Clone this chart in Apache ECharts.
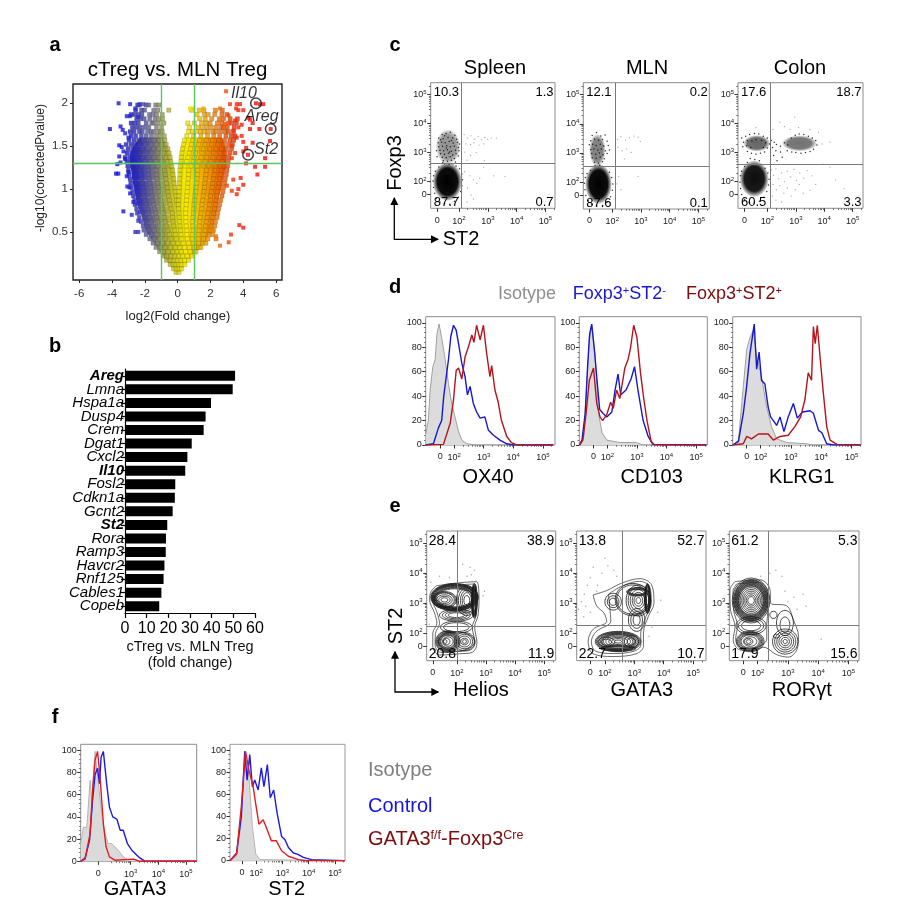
<!DOCTYPE html>
<html>
<head>
<meta charset="utf-8">
<title>cTreg panels</title>
<style>html,body{margin:0;padding:0;background:#fff}#main{width:917px;height:924px}</style>
<script src="https://cdn.jsdelivr.net/npm/echarts@6/dist/echarts.min.js"></script>
</head>
<body>
<div id="main"></div>
<script>
// ---- panel a: volcano, rows of [y, [x, x, ...]]
const volcanoRows = [
[0.03,[-0.1,0.08]],
[0.07,[-0.25,-0.08,0.1,0.24]],
[0.12,[-0.46,-0.28,-0.1,0.06,0.24,0.44]],
[0.17,[-0.68,-0.45,-0.22,-0.02,0.2,0.42,0.66]],
[0.22,[-0.88,-0.66,-0.4,-0.16,0.08,0.32,0.58,0.86]],
[0.27,[-1.1,-0.85,-0.58,-0.3,-0.04,0.22,0.48,0.76,1.04,1.12]],
[0.32,[-1.32,-1.06,-0.76,-0.44,-0.14,0.14,0.42,0.72,1.02,1.3,1.42]],
[0.37,[-1.5,-1.22,-0.92,-0.6,-0.28,0.02,0.34,0.66,0.98,1.28,1.55,1.72]],
[0.42,[-1.7,-1.42,-1.1,-0.76,-0.4,-0.08,0.26,0.6,0.92,1.26,1.58,1.84,2.34]],
[0.47,[-1.92,-1.6,-1.26,-0.9,-0.5,-0.14,0.2,0.56,0.9,1.26,1.6,1.92,2.14]],
[0.52,[-2.06,-1.76,-1.42,-1.02,-0.6,-0.18,0.18,0.56,0.94,1.3,1.66,1.98,2.17]],
[0.57,[-2.1,-1.86,-1.5,-1.12,-0.7,-0.24,0.14,0.52,0.92,1.32,1.7,2.04,2.26]],
[0.62,[-2.22,-1.94,-1.6,-1.2,-0.76,-0.28,0.12,0.5,0.92,1.34,1.74,2.1,2.3]],
[0.67,[-2.34,-2.04,-1.68,-1.28,-0.82,-0.3,0.1,0.5,0.94,1.38,1.8,2.14,2.4]],
[0.72,[-2.46,-2.12,-1.76,-1.34,-0.88,-0.32,0.08,0.48,0.96,1.42,1.84,2.2,2.44]],
[0.77,[-2.5,-2.2,-1.82,-1.4,-0.94,-0.4,0.06,0.5,0.98,1.46,1.9,2.26,2.5]],
[0.82,[-2.6,-2.26,-1.88,-1.46,-1,-0.46,-0.04,0.06,0.52,1,1.48,1.94,2.3,2.56]],
[0.87,[-2.62,-2.32,-1.94,-1.52,-1.06,-0.5,-0.06,0.06,0.54,1.04,1.52,1.98,2.34,2.62]],
[0.92,[-2.7,-2.38,-2,-1.56,-1.1,-0.56,-0.1,0.08,0.56,1.06,1.56,2,2.38,2.7]],
[0.97,[-2.74,-2.44,-2.04,-1.62,-1.14,-0.6,-0.14,0.08,0.58,1.1,1.6,2.06,2.42,2.76]],
[1.02,[-2.82,-2.48,-2.1,-1.66,-1.18,-0.64,-0.18,0.1,0.6,1.12,1.64,2.1,2.46,2.8]],
[1.07,[-2.86,-2.52,-2.14,-1.7,-1.22,-0.68,-0.22,0.1,0.62,1.16,1.66,2.14,2.5,2.86]],
[1.12,[-2.9,-2.56,-2.2,-1.74,-1.26,-0.72,-0.24,0.12,0.64,1.18,1.7,2.18,2.54,2.9]],
[1.17,[-2.96,-2.6,-2.22,-1.78,-1.28,-0.76,-0.28,0.14,0.66,1.2,1.72,2.22,2.6,2.96]],
[1.22,[-3,-2.64,-2.26,-1.8,-1.32,-0.8,-0.3,0.14,0.68,1.22,1.76,2.26,2.64,3]],
[1.27,[-3.04,-2.78,-2.46,-2.2,-1.84,-1.52,-1.2,-0.84,-0.46,-0.36,0.16,0.44,0.82,1.18,1.55,1.9,2.28,2.6,2.82,3.04]],
[1.32,[-3.1,-2.86,-2.6,-2.32,-1.96,-1.66,-1.3,-0.96,-0.6,-0.42,0.2,0.55,0.95,1.3,1.66,2.02,2.4,2.72,3.08]],
[1.37,[-3.2,-2.92,-2.7,-2.42,-2.1,-1.74,-1.42,-1.06,-0.7,-0.46,0.22,0.62,1,1.42,1.76,2.14,2.5,2.86,3.12]],
[1.42,[-3.08,-2.8,-2.54,-2.26,-1.88,-1.56,-1.2,-0.84,-0.52,0.26,0.7,1.08,1.48,1.84,2.2,2.58,2.9,3.2]],
[1.47,[-3.02,-2.74,-2.44,-2.12,-1.8,-1.46,-1.14,-0.76,-0.6,0.3,0.78,1.2,1.56,1.94,2.32,2.66,2.98,3.28]],
[1.52,[-3.14,-2.84,-2.6,-2.3,-1.96,-1.62,-1.28,-0.96,-0.7,0.36,0.84,1.28,1.66,2.06,2.44,2.8,3.1,3.34]],
[1.57,[-2.96,-2.66,-2.38,-2.08,-1.76,-1.42,-1.12,-0.78,0.42,0.92,1.34,1.74,2.12,2.5,2.86,3.18,3.42]],
[1.62,[-2.84,-2.56,-2.22,-1.92,-1.6,-1.3,-1.04,-0.82,0.56,0.98,1.42,1.82,2.2,2.56,2.94,3.26,3.5]],
[1.67,[-2.9,-2.66,-2.34,-2.16,-1.84,-1.62,-1.48,-1.22,-1.04,-0.94,0.66,0.9,1.14,1.4,1.62,1.86,2.16,2.34,2.62,2.9,3.1,3.4]],
[1.72,[-2.76,-2.52,-2.28,-2.02,-1.76,-1.3,-0.98,0.72,1.24,1.5,1.78,2.06,2.36,2.66,2.8,3.02,3.44]],
[1.77,[-2.84,-2.62,-2.4,-1.92,-1.58,-1.46,-1.18,-0.84,0.62,1.02,1.46,1.74,1.98,2.42,2.7,3.1,3.3,3.58]],
[1.82,[-2.5,-2.26,-2.04,-1.7,-1.38,-1.16,-0.92,1.34,1.68,2.08,2.54,2.8,3.2,3.64]],
[1.87,[-2.84,-2.62,-2.38,-2.18,-1.72,-1.5,-1.28,-0.94,1.18,1.62,1.86,2.26,2.7,3]],
[1.92,[-2.56,-2.2,-2.02,-1.46,-1.2,-0.54,0.84,1.32,1.6,2.3,2.72]],
[1.98,[-2.44,-2.34,-1.92,-1.76,-1.34,-1.14]]
];
// scattered genes outside the main cloud
const volcanoSparse = [[-3.6,2],[-4.13,1.7],[-3.48,1.73],[-3.35,1.69],[-2.9,1.99],[-2.58,1.94],[-2.3,1.99],[-2.09,1.99],[-3.1,1.85],[-2.9,1.85],[-2.4,1.84],[-3.56,1.51],[-3.41,1.49],[-3.56,1.38],[-3.3,1.44],[-3.2,1.35],[-3.68,1.29],[-3.48,1.31],[-3.62,1.18],[-3.76,1.18],[-3,1.2],[-3.1,1.15],[-3.07,1.03],[-2.94,1.02],[-3.31,0.74],[-2.8,0.7],[-2.3,0.73],[-2.4,0.63],[-2.58,0.5],[-2.4,0.5],[-2.9,0.95],[-2.7,0.85],[-2.46,0.83],[-3.2,1.65],[-3,1.6],
[2.95,2.14],[3.19,1.99],[3.6,1.99],[3.8,1.99],[4,1.92],[3.56,1.94],[3.7,1.92],[4.31,1.83],[4.41,1.81],[4.57,1.77],[5.22,1.99],[5.02,1.99],[4.98,1.7],[4.41,1.7],[3.9,1.62],[4,1.55],[4.57,1.54],[5.63,1.56],[4.17,1.48],[4,1.44],[5.33,1.36],[4.17,1.3],[4.72,1.26],[5.33,1.26],[4.86,1.17],[3.84,1.13],[3.39,1.11],[4,1.05],[3.7,1],[3.6,0.94],[3.3,0.98],[3,1.04],[3.76,0.58],[4,0.55],[3.25,0.47],[3.11,0.38],[2.58,0.34],[2.34,0.45],[2.17,0.52],[2.58,1.94],[1.57,1.94],[0.95,1.94],[0.75,1.94],[3.5,1.8],[3.7,1.72],[3.9,1.75],[3.4,1.68],[3.6,1.6],[3.3,1.5],[3.5,1.42],[3.3,1.36],[3.1,1.86],[2.9,1.76]];
// y value, outer-left, inner-left, inner-right, outer-right of the dense cloud
const cloudRows = [
[0.03,-0.1,0,0,0.1],[0.1,-0.38,0,0,0.4],[0.2,-0.8,0,0,0.8],[0.3,-1.2,0,0,1.3],[0.4,-1.55,0,0,1.7],[0.5,-1.9,0,0,2],[0.6,-2.05,0,0,2.12],[0.7,-2.2,0,0,2.3],[0.8,-2.42,0,0,2.42],[0.9,-2.55,-0.03,0.03,2.5],[1,-2.65,-0.08,0.02,2.65],[1.1,-2.76,-0.14,0.05,2.76],[1.2,-2.82,-0.2,0.08,2.86],[1.3,-2.9,-0.3,0.1,2.95],[1.4,-2.9,-0.45,0.15,2.95],[1.5,-2.7,-0.62,0.22,2.9],[1.6,-2.3,-0.9,0.5,2.7]
];
const volcanoMarked = [{name:'Il10',value:[4.77,2],offset:[-12,-10]},{name:'Areg',value:[5.67,1.7],offset:[-9,-12]},{name:'St2',value:[4.29,1.4],offset:[18,-5]}];
const foldXTicks = [-6,-4,-2,0,2,4,6];
const pvalTicks = [0.5,1,1.5,2];
const foldCut = [-1,1];
const pvalCut = 1.3;

// ---- panel b
const barGenes = ['Areg','Lmna','Hspa1a','Dusp4','Crem','Dgat1','Cxcl2','Il10','Fosl2','Cdkn1a','Gcnt2','St2','Rora','Ramp3','Havcr2','Rnf125','Cables1','Copeb'];
const boldGenes = ['Areg','Il10','St2'];
const barValues = [50.8,49.7,39.7,37.2,36.3,30.8,28.8,27.8,23.2,23,22,19.5,18.9,18.8,18.2,17.8,16.8,15.8];

// ---- flow axes: position k means 10^k, the zero label sits in the linear part
const decadeTicks = [2,3,4,5];
const minorOffsets = [0.3,0.48,0.6,0.7,0.78,0.85,0.9,0.95];
const percentTicks = [0,20,40,60,80,100];
const percentMinor = [4,8,12,16,24,28,32,36,44,48,52,56,64,68,72,76,84,88,92,96];

// ---- panel c: quadrant percentages UL, UR, LL, LR
const spleenQuad = ['10.3','1.3','87.7','0.7'];
const mlnQuad = ['12.1','0.2','87.6','0.1'];
const colonQuad = ['17.6','18.7','60.5','3.3'];
// populations as x, y, x spread, y spread, density
const spleenBlobs = [[1.6,2,0.5,0.66,1],[1.62,3.2,0.42,0.6,0.42]];
const mlnBlobs = [[1.52,1.94,0.46,0.68,1],[1.48,3.1,0.28,0.55,0.5]];
const colonBlobs = [[1.54,2.1,0.5,0.62,0.95],[1.63,3.32,0.46,0.28,0.6],[3.13,3.32,0.6,0.27,0.55]];
const spleenDense = [[1.42,3.62],[1.55,3.66],[1.7,3.7],[1.86,3.6],[1.3,3.5],[1.45,3.48],[1.62,3.52],[1.78,3.5],[1.92,3.46],[1.28,3.34],[1.4,3.36],[1.52,3.34],[1.66,3.38],[1.8,3.33],[1.95,3.36],[2.02,3.3],[1.3,3.2],[1.43,3.22],[1.58,3.24],[1.7,3.2],[1.84,3.22],[1.98,3.18],[1.34,3.08],[1.47,3.06],[1.6,3.1],[1.74,3.05],[1.88,3.08],[1.36,2.96],[1.5,2.94],[1.64,2.98],[1.78,2.92],[1.9,2.96],[1.42,2.84],[1.56,2.82],[1.7,2.86],[1.84,2.8],[1.46,2.72],[1.6,2.7],[1.74,2.74],[1.88,2.68],[1.5,2.62],[1.66,2.6],[1.8,2.62],[1.12,2.2],[1.1,2.02],[1.12,1.8],[1.16,1.6],[1.22,1.42],[1.34,1.3],[1.5,1.24],[1.68,1.22],[1.84,1.32],[1.98,1.46],[2.06,1.66],[2.1,1.86],[2.12,2.06],[2.1,2.26],[2.02,2.44],[1.9,2.54],[1.3,2.5],[1.18,2.36],[1.36,3.44],[1.5,3.58],[1.74,3.42],[1.22,3.06],[1.24,2.86],[1.98,2.88],[2,3.06],[1.56,3.16],[1.68,3.02],[1.44,2.66]];
const spleenSparse = [[2.18,3.62],[2.3,3.5],[2.42,3.58],[2.55,3.46],[2.66,3.56],[2.78,3.44],[2.9,3.52],[3,3.46],[3.12,3.5],[3.3,3.5],[2.24,3.3],[2.4,3.28],[2.52,3.34],[2.7,3.26],[2.86,3.3],[2.2,3.02],[2.4,2.9],[2.6,3],[2.28,2.74],[2.88,2.72],[2.2,2.34],[2.38,2.2],[2.5,2.06],[2.62,1.94],[2.72,2.12],[2.3,1.78],[2.42,1.54],[3.2,2.2],[3.6,2.18],[2.86,2.5],[2.5,1.4],[2.28,1.3]];
const mlnDense = [[1.3,3.6],[1.45,3.7],[1.6,3.58],[1.75,3.62],[1.25,3.42],[1.38,3.48],[1.52,3.44],[1.66,3.46],[1.82,3.4],[1.2,3.28],[1.32,3.3],[1.44,3.26],[1.58,3.3],[1.7,3.24],[1.86,3.26],[1.25,3.12],[1.36,3.14],[1.5,3.1],[1.62,3.14],[1.76,3.08],[1.9,3.1],[1.28,2.98],[1.42,2.96],[1.55,3],[1.68,2.94],[1.82,2.98],[1.3,2.84],[1.44,2.82],[1.58,2.86],[1.72,2.8],[1.38,2.68],[1.52,2.66],[1.66,2.7],[1.4,2.56],[1.56,2.58],[1.06,2.16],[1.03,1.96],[1.05,1.74],[1.08,1.54],[1.16,1.36],[1.28,1.24],[1.46,1.18],[1.66,1.2],[1.82,1.32],[1.94,1.5],[2,1.72],[2.02,1.94],[1.98,2.16],[1.9,2.34],[1.24,2.4],[1.12,2.3]];
const mlnSparse = [[2.18,3.46],[2.3,3.56],[2.46,3.44],[2.6,3.52],[2.76,3.58],[2.9,3.54],[2.98,3.4],[2.2,3.2],[2.34,3.08],[2.5,3.14],[2.66,3.02],[2.42,2.8],[2.9,2.2],[2.22,2.2],[2.16,1.94],[2.3,1.74],[2.22,2.54]];
const colonDense = [[1.1,3.5],[1.24,3.56],[1.38,3.62],[1.55,3.66],[1.7,3.64],[1.86,3.56],[2,3.5],[2.14,3.42],[1.16,3.36],[1.3,3.42],[1.46,3.4],[1.6,3.44],[1.8,3.42],[1.94,3.34],[2.08,3.3],[2.24,3.36],[1.14,3.2],[1.28,3.24],[1.42,3.18],[1.86,3.18],[2,3.16],[2.18,3.18],[2.32,3.28],[2.46,3.22],[2.6,3.34],[2.72,3.26],[2.84,3.5],[2.98,3.6],[3.12,3.64],[3.28,3.62],[3.44,3.56],[3.58,3.5],[3.7,3.42],[2.7,3.06],[2.86,3.02],[3,3],[3.18,2.98],[3.34,3],[3.5,3.04],[3.62,3.12],[3.74,3.26],[1.3,3.04],[1.44,2.98],[1.6,2.94],[1.76,2.98],[1.9,3.02],[2.46,3.02],[2.3,3.06],[1.4,2.8],[1.56,2.76],[1.72,2.72],[1.3,2.66],[2.22,2.9],[2.52,2.84],[2.34,2.72],[1.06,2.2],[1.04,1.98],[1.06,1.76],[1.1,1.56],[1.2,1.38],[1.36,1.28],[1.54,1.26],[1.72,1.32],[1.88,1.46],[1.98,1.66],[2.04,1.88],[2.06,2.08],[2.02,2.3],[1.92,2.46],[1.2,2.52],[1.1,2.36]];
const colonSparse = [[2.14,2.4],[2.22,2.22],[2.3,2.44],[2.4,2.1],[2.5,2.3],[2.6,2],[2.7,2.36],[2.82,2.16],[2.94,2.42],[3.02,2.04],[3.14,2.3],[3.28,2.12],[3.4,2.38],[3.56,2.2],[2.2,1.9],[2.32,1.72],[2.44,1.86],[2.58,1.6],[2.7,1.78],[2.84,1.5],[2.98,1.72],[3.12,1.9],[3.26,1.6],[3.5,1.7],[2.18,1.5],[2.3,1.36],[2.5,1.3],[3.7,1.9],[3.92,3.3],[4.2,3.36],[4.4,2.06],[4.7,1.76],[2.6,3.9],[2.96,4.22],[2.44,4.05],[2.8,3.8],[3.1,3.86],[2.2,3.8],[1.6,3.86],[3.5,3.8],[3.8,3.7],[3.96,2.6],[4.2,2.5]];
const spleenGate = [2.09,2.62];
const mlnGate = [2.1,2.54];
const colonGate = [2.09,2.61];

// ---- panel d: histograms, [axis position, percent of max]
const ox40Iso = [[1.04,9],[1.13,20],[1.19,45],[1.28,64],[1.36,70],[1.42,91],[1.49,99],[1.58,88],[1.7,70],[1.81,50],[1.92,34],[2.03,23],[2.15,11],[2.26,4],[2.43,1],[2.76,0],[5.35,0]];
const ox40Neg = [[1.04,0],[1.3,1],[1.47,14],[1.58,20],[1.65,40],[1.81,70],[1.89,89],[1.98,98],[2.07,94],[2.15,83],[2.26,67],[2.37,56],[2.45,41],[2.54,48],[2.65,34],[2.76,27],[2.88,22],[3.04,23],[3.16,12],[3.33,8],[3.55,4],[3.78,1],[4,0],[5.35,0]];
const ox40Pos = [[1.04,0],[1.64,0.5],[1.87,18],[1.98,37],[2.07,61],[2.15,63],[2.26,54],[2.37,72],[2.48,80],[2.6,90],[2.67,84],[2.76,98],[2.88,86],[2.99,98],[3.1,75],[3.21,56],[3.27,65],[3.38,45],[3.49,35],[3.6,20],[3.78,7],[3.94,2],[4.11,0],[5.35,0]];
const cd103Iso = [[1.06,0],[1.2,7],[1.31,53],[1.39,86],[1.47,98],[1.59,72],[1.7,26],[1.82,10],[1.98,4],[2.42,2],[2.98,2],[3.2,0],[5.35,0]];
const cd103Neg = [[1.06,0],[1.14,4],[1.25,26],[1.33,64],[1.4,91],[1.47,99],[1.56,78],[1.65,53],[1.74,29],[1.85,26],[1.98,23],[2.15,27],[2.26,45],[2.36,58],[2.45,41],[2.63,45],[2.8,54],[2.92,64],[3.04,44],[3.21,20],[3.38,7],[3.54,0.5],[5.35,0]];
const cd103Pos = [[1.06,0],[1.17,4],[1.28,26],[1.39,53],[1.53,63],[1.64,34],[1.75,23],[1.84,20],[1.98,25],[2.11,35],[2.2,30],[2.31,45],[2.42,38],[2.59,63],[2.7,70],[2.78,79],[2.89,98],[3,88],[3.12,59],[3.23,38],[3.34,20],[3.48,3],[3.59,0],[5.35,0]];
const klrgIso = [[1.08,0],[1.27,4],[1.43,48],[1.54,78],[1.65,88],[1.76,94],[1.87,72],[2.03,56],[2.2,31],[2.36,15],[2.53,5],[2.86,2],[3.52,1],[3.74,0],[5.3,0]];
const klrgNeg = [[1.08,0],[1.27,3],[1.43,26],[1.54,48],[1.65,75],[1.79,99],[1.87,62],[1.95,76],[2.03,53],[2.14,50],[2.25,31],[2.33,23],[2.53,16],[2.64,23],[2.77,11],[2.91,23],[3.08,34],[3.21,22],[3.38,27],[3.63,28],[3.74,26],[3.91,12],[4.02,10],[4.18,1],[4.4,0],[5.3,0]];
const klrgPos = [[1.08,0],[1.43,1],[1.54,7],[1.7,5],[1.93,9],[2.25,9],[2.42,4],[2.64,7],[2.91,8],[3.13,15],[3.32,23],[3.46,37],[3.57,59],[3.68,53],[3.74,97],[3.8,83],[3.87,98],[3.96,72],[4.07,42],[4.18,15],[4.29,4],[4.52,0.5],[5.3,0]];

// ---- panel e
const heliosQuad = ['28.4','38.9','20.8','11.9'];
const gataQuad = ['13.8','52.7','22.7','10.7'];
const rorQuad = ['61.2','5.3','17.9','15.6'];
const heliosGate = [2,2.22];
const gataGate = [2.6,2.26];
const rorGate = [2.35,2.26];
const heliosOutline = [[1.29,3.58],[1.98,3.67],[2.67,3.72],[2.76,3.11],[2.72,2.56],[2.61,2.22],[2.69,1.67],[2.53,1.36],[2.09,1.31],[1.4,1.27],[1.17,1.56],[1.17,2],[1.31,2.33],[1.23,2.67],[1.06,3.11],[1.11,3.39]];
const heliosOutline2 = [[1.34,3.5],[1.98,3.6],[2.6,3.64],[2.68,3.1],[2.65,2.56],[2.53,2.2],[2.62,1.68],[2.47,1.44],[2.09,1.39],[1.44,1.36],[1.25,1.6],[1.26,1.98],[1.4,2.32],[1.32,2.68],[1.16,3.12],[1.2,3.36]];
const heliosRings = [[1.92,3.2,0.82,0.46],[1.92,3.2,0.8,0.44],[1.92,3.2,0.78,0.43],[1.92,3.2,0.76,0.41],[1.92,3.2,0.74,0.4],[1.92,3.2,0.72,0.38],[1.92,3.2,0.7,0.36],[1.92,3.18,0.68,0.35],[1.92,3.18,0.66,0.33],[1.92,3.18,0.62,0.3],[1.57,3.11,0.42,0.28],[1.57,3.11,0.38,0.25],[1.57,3.11,0.34,0.23],[1.57,3.11,0.27,0.17],[1.57,3.11,0.2,0.12],[1.57,3.11,0.12,0.07],[2.34,3.09,0.36,0.5],[2.34,3.09,0.29,0.42],[2.34,3.09,0.22,0.34],[2.34,3.09,0.16,0.26],[2.34,3.09,0.1,0.17],[2.6,3.08,0.1,0.58],[2.6,3.08,0.09,0.55],[2.6,3.08,0.08,0.52],[2.6,3.08,0.07,0.5],[2.6,3.08,0.06,0.48],[2.6,3.08,0.05,0.46],[2.6,3.08,0.03,0.42],[1.98,2.6,0.58,0.2],[1.98,2.6,0.48,0.16],[1.98,2.6,0.38,0.12],[1.98,2.6,0.28,0.08],[1.69,1.72,0.42,0.36],[1.69,1.72,0.39,0.34],[1.69,1.72,0.36,0.31],[1.69,1.72,0.33,0.29],[1.69,1.72,0.3,0.26],[1.69,1.72,0.27,0.23],[1.69,1.72,0.24,0.21],[1.69,1.72,0.18,0.16],[1.64,1.72,0.12,0.11],[1.6,1.72,0.06,0.06],[2.26,1.72,0.36,0.3],[2.26,1.72,0.28,0.24],[2.26,1.72,0.21,0.18],[2.26,1.72,0.13,0.11],[2.26,1.72,0.07,0.06],[1.98,1.72,0.62,0.32],[1.98,2.2,0.55,0.2],[1.98,2.2,0.44,0.15]];
const gataOutline = [[1.6,3.28],[2.06,3.42],[2.57,3.67],[3.19,3.82],[3.59,3.61],[3.67,3],[3.48,2.56],[3.31,2],[3.31,1.56],[3.06,1.31],[2.28,1.22],[1.6,1.31],[1.43,1.72],[1.6,2.13],[2.06,2.39],[1.97,2.67],[1.72,2.91]];
const gataOutline2 = [[2.12,3.3],[2.6,3.58],[3.18,3.73],[3.52,3.55],[3.58,3],[3.4,2.56],[3.22,2],[3.22,1.6],[3,1.4],[2.3,1.32],[1.68,1.4],[1.54,1.72],[1.7,2.05],[2.2,2.4],[2.16,2.9]];
const gataRings = [[3.14,3.09,0.42,0.52],[3.14,3.09,0.35,0.44],[3.14,3.09,0.28,0.36],[3.14,3.09,0.21,0.27],[3.14,3.09,0.15,0.19],[3.14,3.09,0.08,0.1],[3.1,3.38,0.36,0.14],[3.1,3.38,0.33,0.12],[3.1,3.38,0.3,0.1],[3.1,3.38,0.27,0.08],[3.45,3.15,0.1,0.5],[3.45,3.15,0.09,0.48],[3.45,3.15,0.08,0.46],[3.45,3.15,0.07,0.44],[3.45,3.15,0.06,0.42],[3.45,3.15,0.04,0.38],[2.28,3.05,0.28,0.28],[2.28,3.05,0.2,0.2],[2.28,3.05,0.13,0.12],[2.95,3.12,0.6,0.54],[2.95,3.12,0.55,0.49],[3.08,2.44,0.28,0.38],[3.08,2.44,0.2,0.28],[3.08,2.44,0.12,0.18],[2.45,1.72,0.78,0.34],[2.45,1.72,0.74,0.32],[2.45,1.72,0.7,0.3],[2.45,1.72,0.65,0.28],[2.45,1.72,0.6,0.26],[2.45,1.72,0.55,0.24],[2.45,1.72,0.5,0.22],[2.45,1.72,0.42,0.18],[2.45,1.72,0.32,0.14],[2.45,1.72,0.22,0.1],[2.45,1.72,0.12,0.05],[2.05,1.7,0.28,0.16],[2.05,1.7,0.18,0.1],[2.9,1.72,0.24,0.2],[2.9,1.72,0.14,0.12],[2.45,1.48,0.6,0.08],[2.45,1.52,0.52,0.08]];
const rorOutline = [[1.25,3.72],[2.08,3.78],[2.41,3.44],[2.43,3],[2.96,2.91],[3.18,2.44],[3.35,1.89],[3.29,1.44],[3.02,1.2],[2.63,1.28],[2.19,1.53],[1.8,1.42],[1.41,1.44],[1.19,1.78],[1.25,2.22],[1.1,2.78],[1.08,3.44]];
const rorOutline2 = [[1.3,3.64],[2.04,3.7],[2.32,3.4],[2.34,2.8],[2.3,2.3],[2.3,1.8],[2.16,1.62],[1.8,1.5],[1.45,1.52],[1.27,1.8],[1.33,2.24],[1.2,2.78],[1.18,3.4]];
const rorRings = [[1.78,3.09,0.62,0.75],[1.78,3.09,0.58,0.7],[1.78,3.09,0.56,0.68],[1.78,3.09,0.54,0.65],[1.78,3.09,0.52,0.63],[1.78,3.09,0.5,0.6],[1.78,3.09,0.48,0.58],[1.78,3.09,0.46,0.55],[1.78,3.09,0.44,0.53],[1.78,3.09,0.42,0.5],[1.78,3.09,0.4,0.48],[1.78,3.09,0.36,0.43],[1.78,3.09,0.31,0.37],[1.78,3.09,0.26,0.31],[1.78,3.09,0.21,0.25],[1.78,3.09,0.16,0.19],[1.78,3.09,0.11,0.13],[1.75,1.72,0.46,0.34],[1.75,1.72,0.42,0.31],[1.75,1.72,0.38,0.28],[1.75,1.72,0.34,0.25],[1.75,1.72,0.3,0.22],[1.75,1.72,0.22,0.16],[1.7,1.72,0.14,0.11],[1.7,1.72,0.08,0.06],[2.91,1.72,0.42,0.42],[2.91,1.72,0.35,0.35],[2.91,1.72,0.28,0.28],[2.91,1.72,0.21,0.21],[2.91,1.72,0.14,0.14],[2.91,1.72,0.07,0.07],[1.78,2.25,0.5,0.3],[1.78,2.25,0.42,0.24],[1.78,2.25,0.32,0.17],[2.52,2.61,0.12,0.12],[2.9,2.28,0.16,0.26],[2.9,2.34,0.28,0.42],[2.62,1.9,0.1,0.06]];
const heliosDots = [[2.45,4.2],[2.6,4.1],[2.5,3.95],[2.2,4.3],[2.35,3.9],[1.4,3.9],[1.75,3.85],[2.9,3.25],[2.95,3.4],[1.1,3.7],[1.05,2.3]];
const gataDots = [[1.4,3.6],[1.6,4.2],[1.9,4],[2.1,4.25],[2.3,4.1],[2.4,3.9],[1.3,3.3],[1.5,3.85],[1.75,3.6],[1.2,3.05],[1.35,2.9],[1.1,2.8],[1.28,2.55],[1.5,2.7],[1.72,3.4],[2,4.5],[3.9,3.1],[3.8,2.7],[3.6,2.2],[3.5,1.9]];
const rorDots = [[2.6,4.1],[2.9,3.4],[3.2,3.2],[3.5,3.3],[4.1,1.8],[3.6,2.9],[2.4,4],[2.1,3.9],[2.8,3.9],[3,3.05],[3.3,2.8],[1.05,3.8]];

// ---- panel f
const fGataIso = [[1.19,16],[1.29,31],[1.41,30],[1.53,73],[1.59,55],[1.71,99],[1.83,70],[1.95,43],[2.07,25],[2.19,16],[2.31,16],[2.55,10],[2.73,4],[2.92,1],[3.1,2],[3.34,0],[5.39,0]];
const fGataCtrl = [[1.19,0],[1.35,3],[1.51,19],[1.62,55],[1.71,78],[1.8,84],[1.87,70],[1.93,94],[2.01,99],[2.13,70],[2.23,49],[2.35,40],[2.5,38],[2.62,28],[2.73,28],[2.88,16],[3.04,10],[3.28,4],[3.52,0],[5.39,0]];
const fGataCko = [[1.19,0],[1.35,2],[1.53,25],[1.63,67],[1.71,91],[1.8,99],[1.89,76],[2.01,34],[2.11,13],[2.23,4],[2.43,1],[3.1,2],[3.34,0],[5.39,0]];
const fSt2Iso = [[1.01,0],[1.26,4],[1.42,31],[1.54,79],[1.64,91],[1.74,73],[1.86,31],[1.99,6],[2.14,1],[5.38,0]];
const fSt2Ctrl = [[1.01,0],[1.26,7],[1.44,40],[1.57,99],[1.66,73],[1.76,96],[1.86,67],[1.95,73],[2.08,64],[2.2,84],[2.3,67],[2.43,87],[2.54,57],[2.67,64],[2.8,43],[2.97,22],[3.1,19],[3.23,12],[3.42,7],[3.57,6],[3.8,3],[4.11,1],[5.38,0]];
const fSt2Cko = [[1.01,0],[1.26,6],[1.44,49],[1.6,99],[1.73,82],[1.89,67],[1.99,51],[2.11,33],[2.27,37],[2.39,30],[2.58,18],[2.77,18],[2.97,9],[3.23,4],[3.61,1],[3.92,0],[5.38,0]];

// ---- layout
const F = 'Liberation Sans, Arial, sans-serif';
const frameColor = '#8c8c8c';
const inkBlue = '#1717cf', inkRed = '#b3151c', inkGray = '#8e8e8e', darkRed = '#7d0c0c';

const grids = [], xAxes = [], yAxes = [], series = [], graphics = [], visualMaps = [];

function txt(x, y, text, size, opts) {
  graphics.push({type:'text', x:x, y:y, silent:true, z:20, rotation:(opts&&opts.rot)||0, style:Object.assign({
    text:text, fontFamily:F, fontSize:size, fill:(opts&&opts.color)||'#000', fontWeight:(opts&&opts.weight)||'normal',
    align:(opts&&opts.align)||'center', verticalAlign:'middle', rich:(opts&&opts.rich)||undefined
  }, {})});
}
const supFmt = zero => v => (Math.abs(v-zero)<1e-6) ? '0' : '10{s|'+v+'}';
const supRich = {s:{fontSize:6,fontFamily:F,color:'#222',padding:[0,0,5,0]}};
const minorVals = decadeTicks.flatMap(k => minorOffsets.map(o => k+o)).filter(v => v<5.4);

function addAxisPair(list, gridIndex, pos, range, labelVals, fmt, minor, lblSize) {
  const idx = list.length;
  list.push({gridIndex, type:'value', position:pos, min:range[0], max:range[1], scale:true,
    axisLine:{show:false,onZero:false}, splitLine:{show:false},
    axisTick:{show:true,length:3.5,customValues:labelVals,lineStyle:{color:'#333',width:1}},
    axisLabel:{show:true,customValues:labelVals,fontSize:lblSize||9,fontFamily:F,color:'#222',margin:pos==='bottom'?7.5:4,formatter:fmt,rich:supRich}});
  list.push({gridIndex, type:'value', position:pos, min:range[0], max:range[1], scale:true,
    axisLine:{show:false,onZero:false}, splitLine:{show:false}, axisLabel:{show:false},
    axisTick:{show:true,length:1.8,customValues:minor,lineStyle:{color:'#444',width:0.7}}});
  return idx;
}
function addGrid(f, border) {
  grids.push({left:f[0], top:f[1], width:f[2]-f[0], height:f[3]-f[1], show:true, borderColor:border||frameColor, borderWidth:1, backgroundColor:'transparent', containLabel:false});
  return grids.length-1;
}
function flowPanel(f, xr, yr, xZero, yZero) {
  const g = addGrid(f);
  const x = addAxisPair(xAxes, g, 'bottom', xr, [xZero].concat(decadeTicks), supFmt(xZero), minorVals);
  const y = addAxisPair(yAxes, g, 'left', yr, [yZero].concat(decadeTicks), supFmt(yZero), minorVals);
  return {x, y, f};
}
function histPanel(f, xr, xLabels, xZero, yMax) {
  const g = addGrid(f);
  const x = addAxisPair(xAxes, g, 'bottom', xr, xLabels, supFmt(xZero), minorVals);
  const y = addAxisPair(yAxes, g, 'left', [0,yMax], percentTicks, v => String(v), percentMinor);
  return {x, y, f};
}
const on = p => ({xAxisIndex:p.x, yAxisIndex:p.y});
function blobSeries(p, data) {
  series.push(Object.assign({type:'custom', data, silent:true, encode:{x:0,y:1}, clip:true, renderItem:(params, api) => {
    const c = api.coord([api.value(0),api.value(1)]);
    const s = api.size([api.value(2),api.value(3)]);
    const d = api.value(4);
    // circle squeezed into the population's shape, a radial fill stays round otherwise
    return {type:'circle', x:c[0], y:c[1], scaleY:s[1]/s[0], shape:{cx:0,cy:0,r:s[0]}, style:{fill:new echarts.graphic.RadialGradient(0.5,0.5,0.5,[
      {offset:0,color:'rgba(0,0,0,'+d+')'},{offset:0.7,color:'rgba(0,0,0,'+(d*0.95)+')'},{offset:1,color:'rgba(0,0,0,'+(d*0.1)+')'}])}};
  }}, on(p)));
}
function dots(p, data, size, opacity) {
  series.push(Object.assign({type:'scatter', data, symbol:'circle', symbolSize:size, silent:true, itemStyle:{color:'#000',opacity}}, on(p)));
}
function gate(p, g) {
  series.push(Object.assign({type:'line', data:[], silent:true, markLine:{silent:true, symbol:'none', animation:false, label:{show:false},
    lineStyle:{color:'#7a7a7a',width:1,type:'solid'}, data:[{xAxis:g[0]},{yAxis:g[1]}]}}, on(p)));
}
function quadText(p, q, size, top, bottom, pad) {
  const f = p.f;
  txt(f[0]+pad, f[1]+top, q[0], size, {align:'left'});
  txt(f[2]-1.5, f[1]+top, q[1], size, {align:'right'});
  txt(f[0]+pad, f[3]-bottom, q[2], size, {align:'left'});
  txt(f[2]-1.5, f[3]-bottom, q[3], size, {align:'right'});
}
function histLine(p, data, color, fill, width) {
  series.push(Object.assign({type:'line', data, showSymbol:false, silent:true, smooth:false, lineStyle:{color,width:width||1.4}, itemStyle:{color},
    areaStyle:fill?{color:fill,opacity:1}:undefined}, on(p)));
}
function contourLine(p, pts) {
  series.push(Object.assign({type:'line', data:pts.concat([pts[0]]), showSymbol:false, silent:true, smooth:0.35, lineStyle:{color:'#2a2a2a',width:0.7}}, on(p)));
}
function ringSeries(p, data) {
  series.push(Object.assign({type:'custom', data, silent:true, encode:{x:0,y:1}, clip:true, renderItem:(params, api) => {
    const c = api.coord([api.value(0),api.value(1)]);
    const s = api.size([api.value(2),api.value(3)]);
    return {type:'ellipse', shape:{cx:c[0],cy:c[1],rx:s[0],ry:s[1]}, style:{fill:'none',stroke:'#1c1c1c',lineWidth:0.8}};
  }}, on(p)));
}

// ---- a
{
  const g = addGrid([73,84,282,280], '#222');
  grids[g].borderWidth = 1.4;
  const mk = (list, pos, min, max, ticks, fmt, margin) => {
    list.push({gridIndex:g, type:'value', position:pos, min, max, scale:true, axisLine:{show:false,onZero:false}, splitLine:{show:false},
      axisTick:{show:true,length:3,customValues:ticks,lineStyle:{color:'#222'}},
      axisLabel:{show:true,customValues:ticks,fontSize:11.5,fontFamily:F,color:'#333',margin,formatter:fmt}});
    return list.length-1;
  };
  const x = mk(xAxes,'bottom',-6.38,6.36,foldXTicks,v=>String(v),8);
  const y = mk(yAxes,'left',-0.06,2.225,pvalTicks,v=>String(v),5);
  const ax = {xAxisIndex:x,yAxisIndex:y};
  const stops = ['#1414d6','#2a2acb','#6e6e90','#b9b92c','#f6ec00','#eeac00','#f06a00','#f02a08','#ee1010'];
  const gradStops = stops.map((c,i) => ({offset:i/(stops.length-1),color:c}));
  // dense cloud underneath the single genes
  series.push(Object.assign({type:'custom', data:cloudRows.slice(0,-1), silent:true, encode:{x:1,y:0}, clip:true, z:1, renderItem:(params, api) => {
    const a = cloudRows[params.dataIndex], b = cloudRows[params.dataIndex+1];
    const P = (vx,vy) => api.coord([vx,vy]);
    const x0 = P(-3.5,0)[0], x1 = P(4.5,0)[0];
    const fill = new echarts.graphic.LinearGradient(x0,0,x1,0,gradStops,true);
    const kids = [];
    kids.push({type:'polygon', shape:{points:[P(a[1],a[0]),P(a[2],a[0]),P(b[2],b[0]),P(b[1],b[0])]}, style:{fill}});
    kids.push({type:'polygon', shape:{points:[P(a[3],a[0]),P(a[4],a[0]),P(b[4],b[0]),P(b[3],b[0])]}, style:{fill}});
    return {type:'group', children:kids};
  }}, ax));
  const pts = volcanoRows.flatMap(r => r[1].map(v => [v,r[0]]));
  series.push(Object.assign({type:'scatter', data:pts, symbol:'rect', symbolSize:4.2, silent:true, z:2,
    itemStyle:{borderColor:'rgba(70,60,20,0.45)',borderWidth:0.6}}, ax));
  series.push(Object.assign({type:'scatter', data:volcanoSparse, symbol:'rect', symbolSize:4, silent:true, z:2}, ax));
  visualMaps.push({show:false, type:'continuous', seriesIndex:[series.length-2,series.length-1], dimension:0, min:-3.5, max:4.5, inRange:{color:stops}});
  series.push(Object.assign({type:'line', data:[], silent:true, z:10, markLine:{silent:true, symbol:'none', animation:false, label:{show:false}, z:10,
    lineStyle:{color:'#58c858',width:1.4,type:'solid'}, data:[{xAxis:foldCut[0]},{xAxis:foldCut[1]},{yAxis:pvalCut}]}}, ax));
  series.push(Object.assign({type:'scatter', silent:true, z:11, symbol:'rect', symbolSize:4, itemStyle:{color:'#ee1010'}, data:volcanoMarked.map(d=>d.value)}, ax));
  series.push(Object.assign({type:'scatter', silent:true, z:12, symbol:'circle', symbolSize:10.5, itemStyle:{color:'rgba(0,0,0,0)',borderColor:'#111',borderWidth:1.5},
    data:volcanoMarked.map(d => ({name:d.name,value:d.value,label:{show:true,position:'inside',offset:d.offset,formatter:'{b}',color:'#000',fontStyle:'italic',fontSize:16,fontFamily:F}}))}, ax));
  txt(177.5,70,'cTreg vs. MLN Treg',20.5,{});
  txt(41,168,'-log10(correctedPvalue)',12,{rot:Math.PI/2,color:'#222'});
  txt(178,316,'log2(Fold change)',13,{color:'#222'});
}

// ---- b
{
  const g = grids.length;
  grids.push({left:125,top:369,width:130,height:244,containLabel:false});
  xAxes.push({gridIndex:g,type:'value',min:0,max:60,interval:10,position:'bottom',splitLine:{show:false},
    axisLine:{show:true,onZero:false,lineStyle:{color:'#000',width:1.2}},axisTick:{show:true,length:5,lineStyle:{color:'#000',width:1.2}},
    axisLabel:{fontSize:16,fontFamily:F,color:'#000',margin:8}});
  yAxes.push({gridIndex:g,type:'category',data:barGenes,inverse:true,position:'left',
    axisLine:{show:true,onZero:false,lineStyle:{color:'#000',width:1.2}},axisTick:{show:true,length:4,alignWithLabel:true,lineStyle:{color:'#000',width:1.2},interval:0},
    axisLabel:{interval:0,fontSize:15,fontFamily:F,color:'#000',fontStyle:'italic',margin:1,
      formatter:v => boldGenes.includes(v) ? '{b|'+v+'}' : v,
      rich:{b:{fontWeight:'bold',fontStyle:'italic',fontSize:15,fontFamily:F,color:'#000'}}}});
  series.push({type:'bar',xAxisIndex:xAxes.length-1,yAxisIndex:yAxes.length-1,data:barValues,barWidth:10,silent:true,itemStyle:{color:'#000'}});
  txt(190,647,'cTreg vs. MLN Treg',14.5,{color:'#111'});
  txt(190,663,'(fold change)',14.5,{color:'#111'});
}

// ---- c
const cY = [1.08,5.41];
const spleen = flowPanel([430.7,82.7,555,208.3],[1.02,5.33],cY,1.25,1.55);
const mln = flowPanel([583.3,82.7,709.3,209],[0.99,5.38],cY,1.21,1.55);
const colon = flowPanel([738,82.7,863,208.3],[0.97,5.36],cY,1.2,1.55);
[[spleen,spleenBlobs,spleenDense,spleenSparse,spleenGate,spleenQuad],[mln,mlnBlobs,mlnDense,mlnSparse,mlnGate,mlnQuad],[colon,colonBlobs,colonDense,colonSparse,colonGate,colonQuad]].forEach(r => {
  blobSeries(r[0],r[1]);
  dots(r[0],r[2],1.5,0.8);
  dots(r[0],r[3],1.3,0.35);
  gate(r[0],r[4]);
  quadText(r[0],r[5],13,9.6,5.6,3);
});
txt(495,68,'Spleen',20,{});
txt(647,68,'MLN',20,{});
txt(800,68,'Colon',20,{});
txt(395.7,163,'Foxp3',20,{rot:Math.PI/2});
txt(461,239,'ST2',20,{});

// ---- d
const dTop = [316.7,445];
const ox40 = histPanel([425.7,dTop[0],555,dTop[1]],[1.04,5.41],[1.53].concat(decadeTicks),1.53,105);
const cd103 = histPanel([579.3,dTop[0],707.3,dTop[1]],[1.05,5.38],[1.53].concat(decadeTicks),1.53,105);
const klrg = histPanel([732.7,dTop[0],861,dTop[1]],[1.08,5.31],[1.54].concat(decadeTicks),1.54,105);
[[ox40,ox40Iso,ox40Neg,ox40Pos],[cd103,cd103Iso,cd103Neg,cd103Pos],[klrg,klrgIso,klrgNeg,klrgPos]].forEach(r => {
  histLine(r[0],r[1],'#a0a0a0','#dcdcdc',1);
  histLine(r[0],r[2],inkBlue);
  histLine(r[0],r[3],inkRed);
});
const supSmall = c => ({s:{fontSize:11,fontFamily:F,color:c,padding:[0,0,7,0]}});
txt(498,294,'Isotype',18,{align:'left',color:inkGray});
txt(572.7,294,'Foxp3{s|+}ST2{s|-}',18,{align:'left',color:inkBlue,rich:supSmall(inkBlue)});
txt(686,294,'Foxp3{s|+}ST2{s|+}',18,{align:'left',color:darkRed,rich:supSmall(darkRed)});
txt(488,477,'OX40',20,{});
txt(651.7,477,'CD103',20,{});
txt(801.7,477,'KLRG1',20,{});

// ---- e
const eY = [1.08,5.41];
const helios = flowPanel([426.7,531,555.7,660.7],[0.96,5.4],eY,1.17,1.56);
const gata = flowPanel([576.7,531,706,660.7],[1.04,5.44],eY,1.5,1.56);
const ror = flowPanel([729.3,531,859,660.7],[1.06,5.35],eY,1.52,1.56);
[[helios,heliosOutline,heliosOutline2,heliosRings,heliosDots,heliosGate,heliosQuad],[gata,gataOutline,gataOutline2,gataRings,gataDots,gataGate,gataQuad],[ror,rorOutline,rorOutline2,rorRings,rorDots,rorGate,rorQuad]].forEach(r => {
  dots(r[0],r[4],1.5,0.35);
  contourLine(r[0],r[1]);
  contourLine(r[0],r[2]);
  ringSeries(r[0],r[3]);
  gate(r[0],r[5]);
  quadText(r[0],r[6],14,9.7,6.4,2);
});
txt(396,626,'ST2',20,{rot:Math.PI/2});
txt(481,690.7,'Helios',20,{});
txt(641.7,690.7,'GATA3',20,{});
txt(801.7,690.7,'ROR\u03b3t',20,{});

// ---- f
const fGata = histPanel([80.7,744.3,196.7,861.3],[1.19,5.39],[1.83,3,4,5],1.83,105.4);
const fSt2 = histPanel([230,744.3,345,860.7],[1.01,5.38],[1.47,2,3,4,5],1.47,105.4);
grids[grids.length-1].borderColor = '#9a9a9a';
[[fGata,fGataIso,fGataCtrl,fGataCko],[fSt2,fSt2Iso,fSt2Ctrl,fSt2Cko]].forEach(r => {
  histLine(r[0],r[1],'#b5b5b5','#dadada',1);
  histLine(r[0],r[2],'#1a1ae6');
  histLine(r[0],r[3],'#e61c1c');
});
txt(135,889,'GATA3',20,{});
txt(286.7,889,'ST2',20,{});
txt(368,770.7,'Isotype',20,{align:'left',color:'#7f7f7f'});
txt(368,806,'Control',20,{align:'left',color:'#1414e0'});
txt(368,839.3,'GATA3{s|f/f}-Foxp3{s|Cre}',20,{align:'left',color:darkRed,rich:{s:{fontSize:12.5,fontFamily:F,color:darkRed,padding:[0,0,8,0]}}});

// panel letters
[['a',55,45],['b',55,346],['c',395,45],['d',395,287],['e',395,506],['f',55,717]].forEach(l => txt(l[1],l[2],l[0],20,{weight:'bold'}));

// gating arrows
function arrow(ox, oy, tx, ty) {
  graphics.push({type:'polyline',silent:true,z:20,shape:{points:[[ox,ty],[ox,oy],[tx,oy]]},style:{stroke:'#000',fill:null,lineWidth:1.3}});
  graphics.push({type:'polygon',silent:true,z:20,shape:{points:[[ox-4,ty+7],[ox+4,ty+7],[ox,ty-1]]},style:{fill:'#000'}});
  graphics.push({type:'polygon',silent:true,z:20,shape:{points:[[tx-7,oy-4],[tx-7,oy+4],[tx+1,oy]]},style:{fill:'#000'}});
}
arrow(394.3,239.3,438,198);
arrow(395,692,438.3,651.7);

const chart = echarts.init(document.getElementById('main'));
chart.setOption({animation:false, backgroundColor:'#fff', grid:grids, xAxis:xAxes, yAxis:yAxes, series:series, visualMap:visualMaps, graphic:{elements:graphics}, tooltip:{show:false}, legend:{show:false}});
</script>
</body>
</html>
